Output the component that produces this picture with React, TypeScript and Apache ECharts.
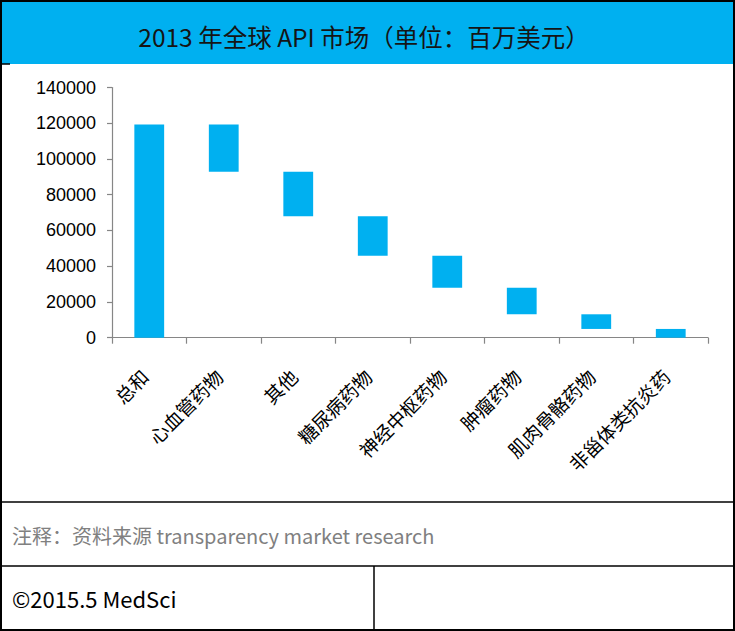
import React, { useEffect, useRef } from "react";
import * as echarts from "echarts";

const categories = [
  "总和",
  "心血管药物",
  "其他",
  "糖尿病药物",
  "神经中枢药物",
  "肿瘤药物",
  "肌肉骨骼药物",
  "非甾体类抗炎药",
];
// invisible offsets (bottom of each floating bar), millions USD
const baseValues = [0, 92800, 68000, 45900, 28000, 13100, 4900, 0];
// visible bar heights, millions USD
const barValues = [119300, 26500, 24800, 22100, 17900, 14900, 8200, 4900];

const titleText = "2013 年全球 API 市场（单位：百万美元）";
const noteText = "注释：资料来源 transparency market research";
const creditText = "©2015.5 MedSci";

const BLUE = "#00B0F0";
const CJK = '"Noto Sans CJK SC", "Noto Sans", sans-serif';

export default function App() {
  const ref = useRef<HTMLDivElement>(null);
  useEffect(() => {
    if (!ref.current) return;
    const chart = echarts.init(ref.current, null, { renderer: "svg" });
    chart.setOption({
      animation: false,
      backgroundColor: "#fff",
      grid: { left: 112, right: 27, top: 87.5, bottom: 293.3, containLabel: false },
      xAxis: {
        type: "category",
        data: categories,
        axisLine: { show: true, lineStyle: { color: "#868686", width: 1.2 } },
        axisTick: { show: true, length: 6, lineStyle: { color: "#868686", width: 1.2 } },
        axisLabel: {
          rotate: 45,
          interval: 0,
          margin: 30,
          padding: [0, 7, 0, 0],
          fontSize: 19,
          color: "#000",
          fontFamily: CJK,
        },
      },
      yAxis: {
        type: "value",
        min: 0,
        max: 140000,
        interval: 20000,
        splitLine: { show: false },
        axisLine: { show: true, lineStyle: { color: "#868686", width: 1.2 } },
        axisTick: { show: true, length: 5, lineStyle: { color: "#868686", width: 1.2 } },
        axisLabel: {
          fontSize: 18,
          color: "#000",
          margin: 16,
          fontFamily: '"Liberation Sans", Arial, sans-serif',
          formatter: (v: number) => String(v),
        },
      },
      series: [
        {
          type: "bar",
          stack: "w",
          data: baseValues,
          barWidth: "40%",
          itemStyle: { color: "transparent" },
          silent: true,
        },
        {
          type: "bar",
          stack: "w",
          data: barValues,
          barWidth: "40%",
          itemStyle: { color: BLUE },
        },
      ],
      graphic: [
        { type: "rect", shape: { x: 1, y: 1, width: 733, height: 63 }, style: { fill: BLUE }, z: 0 },
        {
          type: "rect",
          shape: { x: 1, y: 1, width: 733, height: 629 },
          style: { fill: "none", stroke: "#000", lineWidth: 2 },
          z: 10,
        },
        { type: "line", shape: { x1: 0, y1: 64, x2: 10, y2: 64 }, style: { stroke: "#000", lineWidth: 1.5 } },
        { type: "line", shape: { x1: 0, y1: 502, x2: 735, y2: 502 }, style: { stroke: "#000", lineWidth: 1.5 } },
        { type: "line", shape: { x1: 0, y1: 566, x2: 735, y2: 566 }, style: { stroke: "#000", lineWidth: 1.5 } },
        { type: "line", shape: { x1: 374, y1: 566, x2: 374, y2: 631 }, style: { stroke: "#000", lineWidth: 1.5 } },
        {
          type: "text",
          x: 364,
          y: 36,
          style: {
            text: titleText,
            fontSize: 24.5,
            fontFamily: CJK,
            fill: "#151515",
            textAlign: "center",
            textVerticalAlign: "middle",
          },
        },
        {
          type: "text",
          x: 12,
          y: 535,
          style: {
            text: noteText,
            fontSize: 20,
            fontFamily: CJK,
            fill: "#808080",
            textAlign: "left",
            textVerticalAlign: "middle",
          },
        },
        {
          type: "text",
          x: 12,
          y: 598,
          style: {
            text: creditText,
            fontSize: 22,
            fontFamily: CJK,
            fill: "#000",
            textAlign: "left",
            textVerticalAlign: "middle",
          },
        },
      ],
    });
    return () => chart.dispose();
  }, []);
  return (
    <div
      ref={ref}
      style={{ position: "fixed", left: 0, top: 0, width: 735, height: 631, background: "#fff" }}
    />
  );
}
